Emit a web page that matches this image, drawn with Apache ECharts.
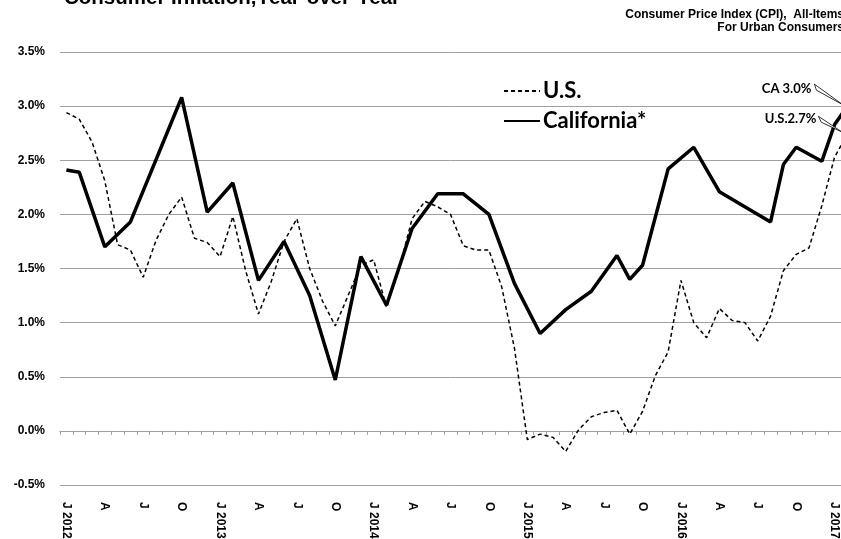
<!DOCTYPE html>
<html>
<head>
<meta charset="utf-8">
<script src="https://cdn.jsdelivr.net/npm/echarts@6/dist/echarts.min.js"></script>
<style>
    html, body { margin: 0; background: #fff; }
    #mainCharts { width: 841px; height: 539px; }
</style>
</head>
<body>
<div id="mainCharts"></div>
<script>
// months Jan 2012 .. Feb 2017
var months = ['J 2012', 'F', 'M', 'A', 'M', 'J', 'J', 'A', 'S', 'O', 'N', 'D',
    'J 2013', 'F', 'M', 'A', 'M', 'J', 'J', 'A', 'S', 'O', 'N', 'D',
    'J 2014', 'F', 'M', 'A', 'M', 'J', 'J', 'A', 'S', 'O', 'N', 'D',
    'J 2015', 'F', 'M', 'A', 'M', 'J', 'J', 'A', 'S', 'O', 'N', 'D',
    'J 2016', 'F', 'M', 'A', 'M', 'J', 'J', 'A', 'S', 'O', 'N', 'D',
    'J 2017', 'F'];

var usValues = [2.94, 2.88, 2.67, 2.31, 1.72, 1.67, 1.42, 1.76, 2.00, 2.16, 1.78, 1.74,
    1.61, 1.98, 1.48, 1.08, 1.38, 1.75, 1.96, 1.50, 1.20, 0.97, 1.25, 1.53,
    1.58, 1.14, 1.50, 1.96, 2.12, 2.07, 2.00, 1.71, 1.67, 1.67, 1.33, 0.76,
    -0.08, -0.03, -0.06, -0.19, 0.01, 0.13, 0.17, 0.19, -0.03, 0.18, 0.51, 0.73,
    1.39, 1.00, 0.86, 1.13, 1.02, 1.00, 0.83, 1.06, 1.48, 1.63, 1.69, 2.08,
    2.53, 2.74];

// California is mostly bi-monthly, gaps are joined
var caValues = [2.41, 2.39, null, 1.70, null, 1.93, null, null, null, 3.08, null, 2.02,
    null, 2.29, null, 1.39, null, 1.75, null, 1.25, null, 0.47, null, 1.61,
    null, 1.16, null, 1.87, null, 2.19, null, 2.19, null, 2.00, null, 1.36,
    null, 0.90, null, 1.12, null, 1.29, null, 1.62, 1.40, 1.53, null, 2.42,
    null, 2.62, null, 2.21, null, null, null, 1.93, 2.46, 2.62, null, 2.49,
    2.83, 3.00];

var caNote = 'CA 3.0%';
var usNote = 'U.S.2.7%';

var yTicks = { min: -0.5, max: 3.5, step: 0.5 };
// last month shown on the axis (J 2017); Feb 2017 runs off the right edge
var lastShown = 60;

var myChart = echarts.init(document.getElementById('mainCharts'));

var subStyle = { fontFamily: 'Liberation Sans', fontWeight: 'bold', fontSize: 12, color: '#000' };

var option = {
    animation: false,
    backgroundColor: '#fff',
    title: [{
        text: 'Consumer Inflation,Year-over-Year',
        left: 64,
        top: -12,
        padding: 0,
        textStyle: { fontFamily: 'Liberation Sans', fontWeight: 'bold', fontSize: 20.5, color: '#000' }
    }, {
        text: 'Consumer Price Index (CPI),  All-Items',
        right: -3,
        top: 9,
        padding: 0,
        textStyle: subStyle
    }, {
        text: 'For Urban Consumers',
        right: -3,
        top: 22,
        padding: 0,
        textStyle: subStyle
    }],
    legend: {
        orient: 'vertical',
        left: 503,
        top: 80,
        padding: 0,
        itemWidth: 36,
        itemHeight: 14,
        itemGap: 8,
        data: ['U.S.', 'California*'],
        itemStyle: { opacity: 0 },
        textStyle: { fontFamily: 'Lato', fontWeight: 'bold', fontSize: 22, lineHeight: 22, color: '#000', padding: [0, 0, 0, -2] }
    },
    // labels run off the bottom edge like in the original, so no auto fitting
    grid: { left: 60, right: 0, top: 52, bottom: 54, outerBoundsMode: 'none', containLabel: false },
    xAxis: [{
        type: 'category',
        data: months,
        max: lastShown,
        boundaryGap: true,
        axisLine: { show: false, onZero: false },
        axisTick: { show: false },
        axisLabel: {
            interval: 2,
            rotate: -90,
            margin: 17,
            fontFamily: 'Liberation Sans',
            fontWeight: 'bold',
            fontSize: 12,
            color: '#000'
        }
    }, {
        type: 'category',
        data: months,
        max: lastShown,
        position: 'bottom',
        boundaryGap: true,
        axisLine: { show: true, onZero: true, lineStyle: { color: '#a0a0a0', width: 1 } },
        axisTick: { show: true, interval: 0, length: 4, lineStyle: { color: '#a0a0a0' } },
        axisLabel: { show: false }
    }],
    yAxis: {
        type: 'value',
        min: yTicks.min,
        max: yTicks.max,
        interval: yTicks.step,
        axisLine: { show: false },
        axisTick: { show: false },
        splitLine: { lineStyle: { color: '#a0a0a0', width: 1 } },
        axisLabel: {
            margin: 15,
            fontFamily: 'Liberation Sans',
            fontWeight: 'bold',
            fontSize: 12,
            color: '#000',
            formatter: function (v) { return v.toFixed(1) + '%'; }
        }
    },
    series: [{
        name: 'U.S.',
        type: 'line',
        data: usValues,
        symbol: 'none',
        clip: true,
        lineStyle: { color: '#000', width: 1.5, type: [4, 3] },
        itemStyle: { color: '#000' },
        z: 3
    }, {
        name: 'California*',
        type: 'line',
        data: caValues,
        connectNulls: true,
        symbol: 'none',
        clip: true,
        lineStyle: { color: '#000', width: 3.5 },
        itemStyle: { color: '#000' },
        z: 4
    }]
};
myChart.setOption(option);

// callouts next to the last points
var last = months.length - 1;
var pCA = myChart.convertToPixel({ seriesIndex: 1 }, [last, caValues[last]]);
var pUS = myChart.convertToPixel({ seriesIndex: 0 }, [last, usValues[last]]);
var noteFont = { fontFamily: 'Lato', fontWeight: 'bold', fontSize: 13, fill: '#000', textAlign: 'right', textVerticalAlign: 'middle' };

myChart.setOption({
    graphic: [{
        type: 'polygon',
        shape: { points: [[pCA[0] - 33, pCA[1] - 22], [pCA[0] - 31, pCA[1] - 16], [pCA[0] - 4, pCA[1] - 1]] },
        style: { fill: '#fff', stroke: '#000', lineWidth: 0.8 },
        z: 10
    }, {
        type: 'text',
        x: pCA[0] - 36,
        y: pCA[1] - 17,
        style: Object.assign({ text: caNote }, noteFont),
        z: 10
    }, {
        type: 'polygon',
        shape: { points: [[pUS[0] - 29, pUS[1] - 18], [pUS[0] - 26, pUS[1] - 12], [pUS[0] - 5, pUS[1] - 2]] },
        style: { fill: '#fff', stroke: '#000', lineWidth: 0.8 },
        z: 10
    }, {
        type: 'text',
        x: pUS[0] - 31,
        y: pUS[1] - 15,
        style: Object.assign({ text: usNote }, noteFont),
        z: 10
    }]
});
</script>
</body>
</html>
